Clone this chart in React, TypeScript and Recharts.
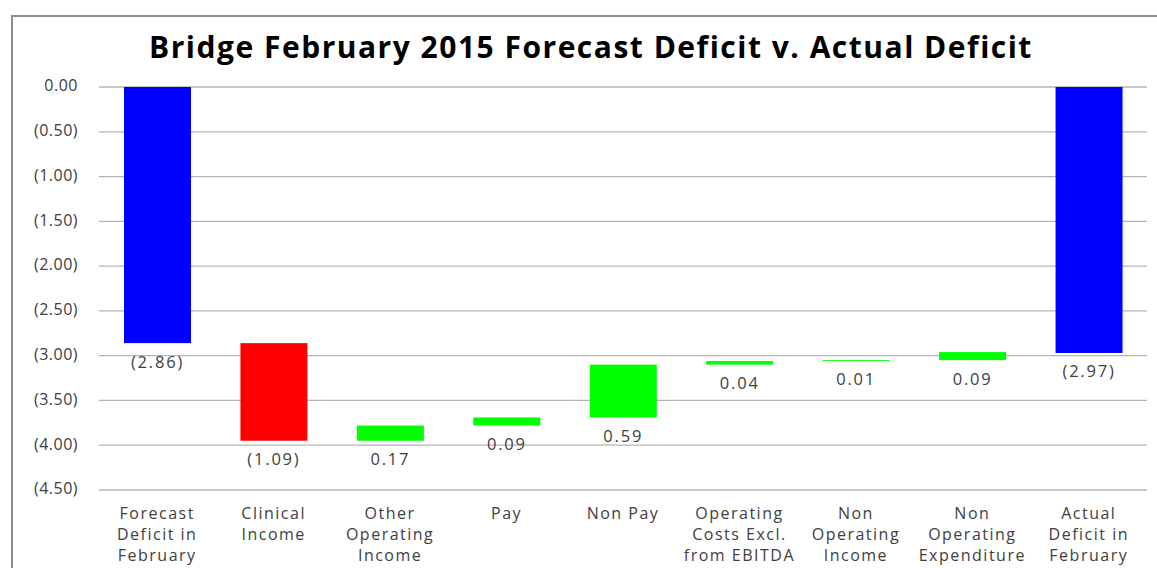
import React from 'react';
import { BarChart, Bar, XAxis, YAxis, CartesianGrid, LabelList } from 'recharts';

// Bridge items, in order
const categories = [
  'Forecast\nDeficit in\nFebruary',
  'Clinical\nIncome',
  'Other\nOperating\nIncome',
  'Pay',
  'Non Pay',
  'Operating\nCosts Excl.\nfrom EBITDA',
  'Non\nOperating\nIncome',
  'Non\nOperating\nExpenditure',
  'Actual\nDeficit in\nFebruary',
];

// Movement of each item (£m); first is the forecast total
const movements = [-2.86, -1.09, 0.17, 0.09, 0.59, 0.04, 0.01, 0.09];
const actualTotal = -2.97;

const yTicks = [0, -0.5, -1, -1.5, -2, -2.5, -3, -3.5, -4, -4.5];

const BLUE = '#0000FF';
const RED = '#FF0000';
const GREEN = '#00FF00';
const FONT = '"Open Sans", sans-serif';

const fmt = (v: number) => (v < 0 ? `(${Math.abs(v).toFixed(2)})` : v.toFixed(2));

// build floating bars from the running total
const data = (() => {
  const rows: { name: string; low: number; high: number; value: number; color: string }[] = [];
  let running = 0;
  movements.forEach((m, i) => {
    const isTotal = i === 0;
    const from = isTotal ? 0 : running;
    const to = isTotal ? m : running + m;
    running = to;
    rows.push({
      name: categories[i],
      low: Math.min(from, to),
      high: Math.max(from, to),
      value: m,
      color: isTotal ? BLUE : m < 0 ? RED : GREEN,
    });
  });
  rows.push({
    name: categories[categories.length - 1],
    low: actualTotal,
    high: 0,
    value: actualTotal,
    color: BLUE,
  });
  return rows;
})();

const CategoryTick = (props: any) => {
  const { x, y, payload } = props;
  const lines = String(payload.value).split('\n');
  return (
    <text
      x={x}
      y={y}
      textAnchor="middle"
      fill="#404040"
      fontSize={16}
      fontFamily={FONT}
      style={{ letterSpacing: 1.5 }}
    >
      {lines.map((l, i) => (
        <tspan key={i} x={x} dy={i === 0 ? 27 : 21}>
          {l}
        </tspan>
      ))}
    </text>
  );
};

const YTick = (props: any) => {
  const { x, y, payload } = props;
  return (
    <text
      x={x}
      y={y}
      textAnchor="end"
      dominantBaseline="middle"
      fill="#404040"
      fontSize={16}
      fontFamily={FONT}
      style={{ letterSpacing: 0.5 }}
    >
      {fmt(payload.value)}
    </text>
  );
};

const BarValueLabel = (props: any) => {
  const { x, y, width, height, index } = props;
  const bottom = Math.max(y, y + height);
  return (
    <text
      x={x + width / 2}
      y={bottom + 20}
      textAnchor="middle"
      dominantBaseline="middle"
      fill="#404040"
      fontSize={16.5}
      fontFamily={FONT}
      style={{ letterSpacing: 1.8 }}
    >
      {fmt(data[index].value)}
    </text>
  );
};

export default function App() {
  return (
    <div style={{ position: 'fixed', inset: 0, overflow: 'hidden', background: '#fff' }}>
      <div
        style={{
          position: 'absolute',
          left: 11,
          top: 15,
          width: 1200,
          height: 600,
          borderTop: '2px solid #8c8c8c',
          borderLeft: '2px solid #8c8c8c',
        }}
      />
      <div
        style={{
          position: 'absolute',
          left: 0,
          top: 26,
          width: 1182,
          textAlign: 'center',
          fontFamily: FONT,
          fontWeight: 'bold',
          fontSize: 30,
          letterSpacing: 1.5,
          color: '#000',
        }}
      >
        Bridge February 2015 Forecast Deficit v. Actual Deficit
      </div>
      <div style={{ position: 'absolute', left: 0, top: 0 }}>
        <BarChart
          width={1157}
          height={568}
          data={data}
          margin={{ top: 87, right: 10, bottom: 0, left: 0 }}
        >
          <CartesianGrid vertical={false} stroke="#b4b4b4" strokeWidth={1.3} />
          <XAxis
            dataKey="name"
            axisLine={false}
            tickLine={false}
            tickSize={0}
            tick={<CategoryTick />}
            interval={0}
            height={78}
          />
          <YAxis
            domain={[-4.5, 0]}
            ticks={yTicks}
            axisLine={false}
            tickLine={false}
            tickSize={0}
            tickMargin={21}
            width={99}
            tick={<YTick />}
          />
          <Bar
            dataKey={(d: any) => [d.low, d.high]}
            barSize={67}
            isAnimationActive={false}
            shape={(p: any) => (
              <rect
                x={p.x}
                y={Math.min(p.y, p.y + p.height)}
                width={p.width}
                height={Math.max(Math.abs(p.height), 1)}
                fill={p.payload.color}
              />
            )}
          >
            <LabelList content={<BarValueLabel />} />
          </Bar>
        </BarChart>
      </div>
    </div>
  );
}
